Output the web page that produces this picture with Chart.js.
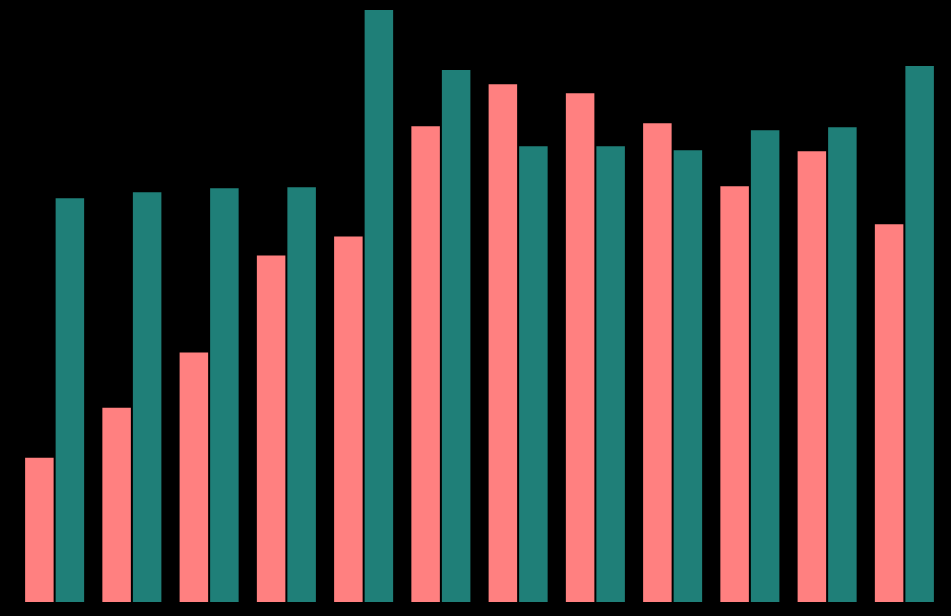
<!DOCTYPE html>
<html lang="en">
<head>
  <meta charset="UTF-8" />
  <title>Bars</title>
  <script src="https://cdn.jsdelivr.net/npm/chart.js"></script>
  <style>
    html, body {
      margin: 0;
      padding: 0;
      background: #000000;
      overflow: hidden;
    }
    canvas {
      display: block;
    }
  </style>
</head>
<body>
  <canvas id="barChart" width="951" height="616"></canvas>

  <script>
    const categories = ['1', '2', '3', '4', '5', '6', '7', '8', '9', '10', '11', '12'];
    const seriesA = [145, 195, 250, 347, 366, 476, 518, 509, 479, 416, 451, 378];
    const seriesB = [404, 410, 414, 415, 592, 532, 456, 456, 452, 472, 475, 536];

    window.onload = function () {
      new Chart(document.getElementById('barChart').getContext('2d'), {
        type: 'bar',
        data: {
          labels: categories,
          datasets: [
            {
              label: 'A',
              data: seriesA,
              backgroundColor: '#ff8080',
              borderColor: '#000000',
              borderWidth: 1
            },
            {
              label: 'B',
              data: seriesB,
              backgroundColor: '#1f7f78',
              borderColor: '#000000',
              borderWidth: 1
            }
          ]
        },
        options: {
          responsive: false,
          animation: false,
          categoryPercentage: 0.79,
          barPercentage: 1.0,
          layout: {
            padding: { top: 9, bottom: 14, left: 16, right: 8 }
          },
          plugins: {
            legend: { display: false },
            tooltip: { enabled: false }
          },
          scales: {
            x: { display: false },
            y: { display: false, min: 0, max: 592 }
          }
        }
      });
    };
  </script>
</body>
</html>
